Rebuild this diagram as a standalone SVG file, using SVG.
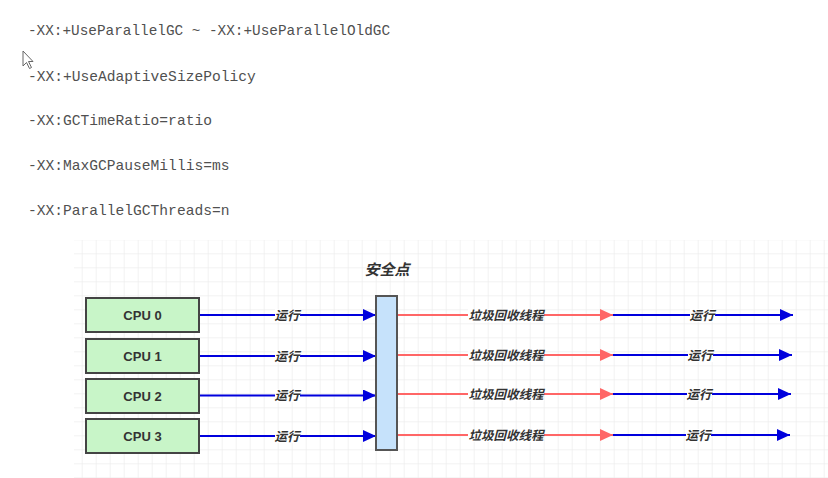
<svg xmlns="http://www.w3.org/2000/svg" width="828" height="478" viewBox="0 0 828 478">
  <style>
    .cmd { font-family: "Liberation Mono", "DejaVu Sans Mono", monospace; font-size: 14.6px; fill: #505050; }
    .cpu rect { fill: #c8f5c8; stroke: #444; stroke-width: 2; }
    .cpu text { font-family: "Liberation Sans", Arial, sans-serif; font-size: 13px; font-weight: bold; fill: #333; text-anchor: middle; }
    .lbl { font-family: "Noto Sans CJK SC", "Liberation Sans", sans-serif; font-size: 12.5px; font-style: italic; font-weight: bold; fill: #333; text-anchor: middle; }
    .lblbg { fill: #ffffff; }
    .blue { stroke: #0000dd; stroke-width: 2; fill: none; marker-end: url(#ab); }
    .red { stroke: #ff6666; stroke-width: 2; fill: none; marker-end: url(#ar); }
  </style>
  <defs>
    <pattern id="grid" patternUnits="userSpaceOnUse" x="11.7" y="1.3" width="14" height="14">
      <path d="M0 0 H14 M0 0 V14" stroke="#e6e6e6" stroke-width="1" fill="none"/>
    </pattern>
    <marker id="ab" markerUnits="userSpaceOnUse" markerWidth="14" markerHeight="12" refX="13" refY="6" orient="auto">
      <path d="M0 0 L13 6 L0 12 Z" fill="#0000dd"/>
    </marker>
    <marker id="ar" markerUnits="userSpaceOnUse" markerWidth="14" markerHeight="12" refX="13" refY="6" orient="auto">
      <path d="M0 0 L13 6 L0 12 Z" fill="#ff6666"/>
    </marker>
  </defs>
  <rect width="828" height="478" fill="#ffffff"/>

  <g id="options">
    <text class="cmd" x="28" y="35" textLength="362" lengthAdjust="spacingAndGlyphs">-XX:+UseParallelGC ~ -XX:+UseParallelOldGC</text>
    <text class="cmd" x="28" y="81">-XX:+UseAdaptiveSizePolicy</text>
    <text class="cmd" x="28" y="125">-XX:GCTimeRatio=ratio</text>
    <text class="cmd" x="28" y="170">-XX:MaxGCPauseMillis=ms</text>
    <text class="cmd" x="28" y="215">-XX:ParallelGCThreads=n</text>
  </g>

  <path id="cursor" d="M23 51 L23 66 L26.5 62.5 L29.5 68.5 L31.5 67.5 L28.5 61.5 L33 61.5 Z" fill="#ffffff" stroke="#666" stroke-width="1"/>

  <rect x="74" y="240" width="754" height="238" fill="url(#grid)"/>

  <g id="connectors">
    <line class="blue" x1="199" y1="315" x2="376" y2="315"/>
    <line class="blue" x1="199" y1="356" x2="376" y2="356"/>
    <line class="blue" x1="199" y1="395.5" x2="376" y2="395.5"/>
    <line class="blue" x1="199" y1="436" x2="376" y2="436"/>
    <line class="red" x1="397" y1="315" x2="613" y2="315"/>
    <line class="red" x1="397" y1="355" x2="613" y2="355"/>
    <line class="red" x1="397" y1="394" x2="613" y2="394"/>
    <line class="red" x1="397" y1="435" x2="613" y2="435"/>
    <line class="blue" x1="613" y1="315" x2="793" y2="315"/>
    <line class="blue" x1="613" y1="355" x2="792" y2="355"/>
    <line class="blue" x1="613" y1="394" x2="791" y2="394"/>
    <line class="blue" x1="613" y1="435" x2="790" y2="435"/>

    <rect class="lblbg" x="275" y="309" width="25" height="13"/>
    <text class="lbl" x="287" y="320">运行</text>
    <rect class="lblbg" x="275" y="350" width="25" height="13"/>
    <text class="lbl" x="287" y="361">运行</text>
    <rect class="lblbg" x="275" y="389" width="25" height="13"/>
    <text class="lbl" x="287" y="400">运行</text>
    <rect class="lblbg" x="275" y="430" width="25" height="13"/>
    <text class="lbl" x="287" y="441">运行</text>

    <rect class="lblbg" x="468" y="309" width="76" height="13"/>
    <text class="lbl" x="506" y="320">垃圾回收线程</text>
    <rect class="lblbg" x="468" y="349" width="76" height="13"/>
    <text class="lbl" x="506" y="360">垃圾回收线程</text>
    <rect class="lblbg" x="468" y="388" width="76" height="13"/>
    <text class="lbl" x="506" y="399">垃圾回收线程</text>
    <rect class="lblbg" x="468" y="429" width="76" height="13"/>
    <text class="lbl" x="506" y="440">垃圾回收线程</text>

    <rect class="lblbg" x="690" y="309" width="25" height="13"/>
    <text class="lbl" x="702" y="320">运行</text>
    <rect class="lblbg" x="688" y="349" width="25" height="13"/>
    <text class="lbl" x="700" y="360">运行</text>
    <rect class="lblbg" x="687" y="388" width="25" height="13"/>
    <text class="lbl" x="699" y="399">运行</text>
    <rect class="lblbg" x="686" y="429" width="25" height="13"/>
    <text class="lbl" x="698" y="440">运行</text>
  </g>

  <g id="cpu0" class="cpu"><rect x="86" y="298" width="113" height="34"/><text x="142.5" y="320">CPU 0</text></g>
  <g id="cpu1" class="cpu"><rect x="86" y="339" width="113" height="34"/><text x="142.5" y="361">CPU 1</text></g>
  <g id="cpu2" class="cpu"><rect x="86" y="379" width="113" height="34"/><text x="142.5" y="401">CPU 2</text></g>
  <g id="cpu3" class="cpu"><rect x="86" y="419" width="113" height="34"/><text x="142.5" y="441">CPU 3</text></g>

  <g id="safepoint">
    <rect x="376" y="296" width="21" height="154" fill="#c6e2fb" stroke="#555" stroke-width="2"/>
    <text x="387" y="275" font-family="Noto Sans CJK SC, Liberation Sans, sans-serif" font-size="15" font-weight="bold" font-style="italic" fill="#333" text-anchor="middle">安全点</text>
  </g>
</svg>
